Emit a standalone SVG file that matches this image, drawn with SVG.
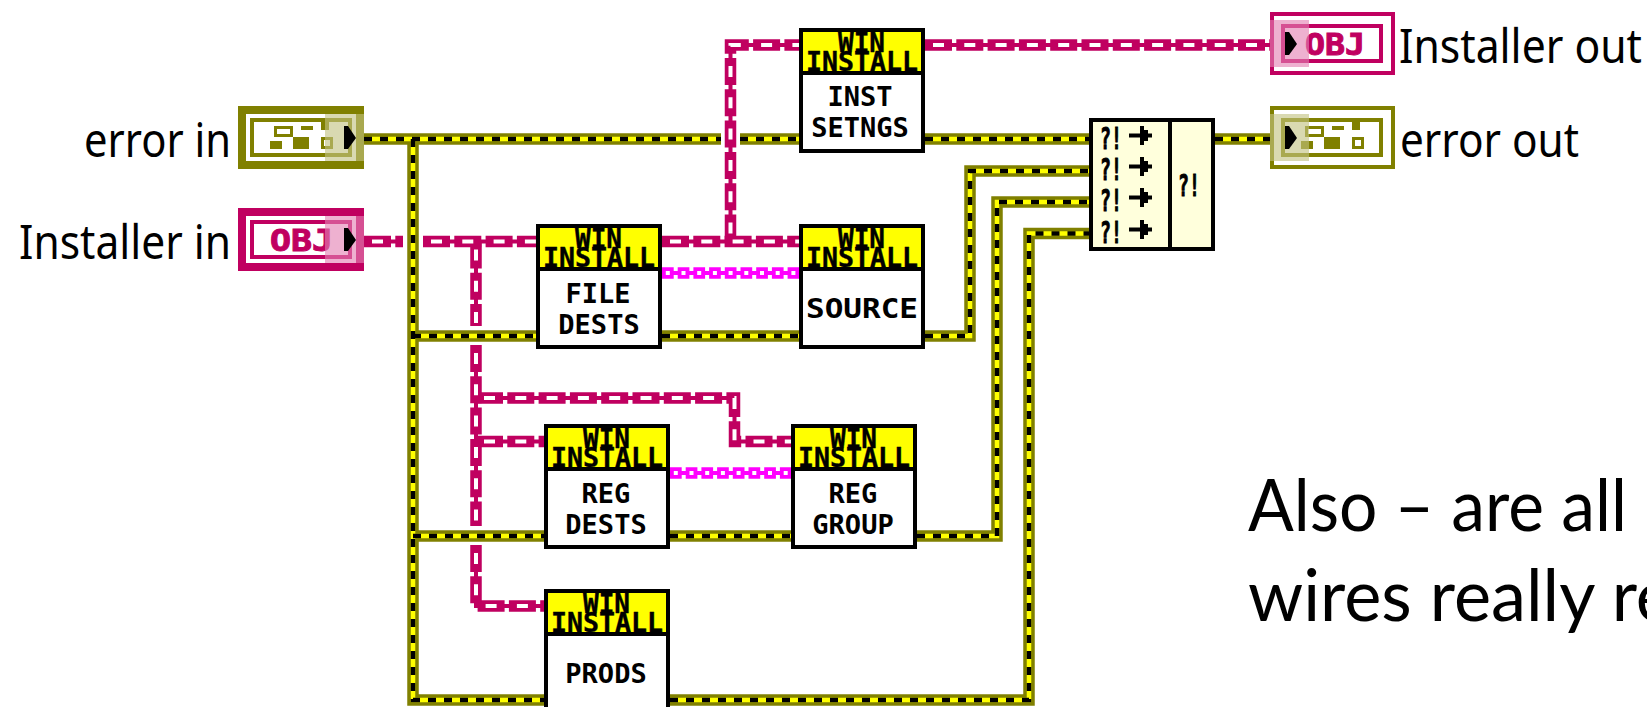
<svg xmlns="http://www.w3.org/2000/svg" width="1647" height="707" viewBox="0 0 1647 707">
<style>
text{font-family:"DejaVu Sans Mono","Liberation Mono",monospace;font-weight:700;fill:#000}
.lbl{font-family:"Noto Sans","Liberation Sans",sans-serif;font-weight:400;font-size:47px}
.big{font-family:Lato,"Open Sans",sans-serif;font-weight:400;font-size:71px}
.hd{font-size:27px;stroke:#000;stroke-width:.4}
.bd{font-size:27px;text-anchor:middle}
.obj{font-size:31px;fill:#c00060;stroke:#c00060;stroke-width:1}
.ex{font-size:31px;stroke:#000;stroke-width:1}
.w{fill:none;stroke-linejoin:miter}
.o1{stroke:#808000;stroke-width:11.5}
.o2{stroke:#ff0;stroke-width:4.5}
.o3{stroke:#000;stroke-width:4.5;stroke-dasharray:8 8}
.p1{stroke:#c00060;stroke-width:11.5;stroke-dasharray:27 4.3}
.p2{stroke:#c00060;stroke-width:4}
.p3{stroke:#fff;stroke-width:4;stroke-dasharray:11 20.3;stroke-dashoffset:-8}
.m1{stroke:#f0f;stroke-width:11.5;stroke-dasharray:11.7 4}
.m2{stroke:#f0f;stroke-width:4}
.m3{stroke:#fff;stroke-width:4;stroke-dasharray:4 11.7;stroke-dashoffset:-3.8}
.box{fill:#fff;stroke:#000;stroke-width:4}
.hdr{fill:#ff0}
.ol{fill:#808000}
.olS{fill:none;stroke:#808000}
.pkS{fill:none;stroke:#c00060}
.ovO{fill:#c1c181;fill-opacity:.62}
.ovP{fill:#e381b3;fill-opacity:.62}
.mg{fill:#ffffdc;stroke:#000;stroke-width:4}
</style>
<defs>
<g id="err">
<rect x="275.500" y="127.500" width="16" height="8" fill="none" stroke="#808000" stroke-width="3"/>
<rect x="301" y="126" width="12" height="4" class="ol"/>
<rect x="321" y="122" width="8" height="8" class="ol"/>
<rect x="270" y="141" width="12" height="8" class="ol"/>
<rect x="293" y="137" width="16" height="12" class="ol"/>
<rect x="322.500" y="138.500" width="9" height="9" fill="none" stroke="#808000" stroke-width="3"/>
</g>
<path id="arr" d="M0 0L0 23L4 23L12 12L4 0Z"/>
<path id="ah" d="M0 7.500H11V0H15V4H19V7.500H23V11.500H19V15H15V19H11V11.500H0Z"/>
<g id="head">
<rect x="4" y="4" width="118" height="40" class="hdr"/>
<path d="M0 45H126" stroke="#000" stroke-width="4"/>
</g>
<path id="a1" d="M364 139H721"/>
<path id="a2" d="M740 139H799"/>
<path id="a3" d="M925 139H1089"/>
<path id="a4" d="M1215 139H1270"/>
<path id="a5" d="M413 139V700H544"/>
<path id="a6" d="M670 700H1029V233.500H1089"/>
<path id="a7" d="M413 336H536"/>
<path id="a8" d="M662 336H799"/>
<path id="a9" d="M925 336H970V171H1089"/>
<path id="a10" d="M413 536H544"/>
<path id="a11" d="M670 536H791"/>
<path id="a12" d="M917 536H997V202H1089"/>
<path id="b1" d="M364 241.500H403"/>
<path id="b2" d="M423 241.500H536"/>
<path id="b3" d="M476 241.500V326"/>
<path id="b4" d="M476 345V526"/>
<path id="b5" d="M476 545V606H544"/>
<path id="b6" d="M476 398H734.500V441.500H791"/>
<path id="b7" d="M476 441.500H544"/>
<path id="b8" d="M662 241.500H799"/>
<path id="b9" d="M730.500 241.500V45H799"/>
<path id="b10" d="M925 45H1270"/>
<path id="c1" d="M662 273H799"/>
<path id="c2" d="M670 473H791"/>
</defs>
<rect width="1647" height="707" fill="#fff"/>
<g id="connectors" class="w">
<g class="o1"><use href="#a1"/><use href="#a2"/><use href="#a3"/><use href="#a4"/><use href="#a5"/><use href="#a6"/><use href="#a7"/><use href="#a8"/><use href="#a9"/><use href="#a10"/><use href="#a11"/><use href="#a12"/></g>
<g class="o2"><use href="#a1"/><use href="#a2"/><use href="#a3"/><use href="#a4"/><use href="#a5"/><use href="#a6"/><use href="#a7"/><use href="#a8"/><use href="#a9"/><use href="#a10"/><use href="#a11"/><use href="#a12"/></g>
<g class="o3"><use href="#a1"/><use href="#a2"/><use href="#a3"/><use href="#a4"/><use href="#a5"/><use href="#a6"/><use href="#a7"/><use href="#a8"/><use href="#a9"/><use href="#a10"/><use href="#a11"/><use href="#a12"/></g>
<g class="p1"><use href="#b1"/><use href="#b2"/><use href="#b3"/><use href="#b4"/><use href="#b5"/><use href="#b6"/><use href="#b7"/><use href="#b8"/><use href="#b9"/><use href="#b10"/></g>
<g class="p2"><use href="#b1"/><use href="#b2"/><use href="#b3"/><use href="#b4"/><use href="#b5"/><use href="#b6"/><use href="#b7"/><use href="#b8"/><use href="#b9"/><use href="#b10"/></g>
<g class="p3"><use href="#b1"/><use href="#b2"/><use href="#b3"/><use href="#b4"/><use href="#b5"/><use href="#b6"/><use href="#b7"/><use href="#b8"/><use href="#b9"/><use href="#b10"/></g>
<g class="m1"><use href="#c1"/><use href="#c2"/></g>
<g class="m2"><use href="#c1"/><use href="#c2"/></g>
<g class="m3"><use href="#c1"/><use href="#c2"/></g>
</g>
<g id="error-in">
<rect x="242" y="110" width="118" height="55" fill="#fff" stroke="#808000" stroke-width="8"/>
<rect x="252" y="120" width="98" height="35" class="olS" stroke-width="4"/>
<use href="#err"/>
<rect x="325" y="114" width="39" height="47" class="ovO"/>
<use href="#arr" x="344" y="126"/>
<text class="lbl" x="84" y="157" textLength="147" lengthAdjust="spacingAndGlyphs">error in</text>
</g>
<g id="installer-in">
<rect x="242" y="212" width="118" height="55" fill="#fff" stroke="#c00060" stroke-width="8"/>
<rect x="252" y="222" width="98" height="35" class="pkS" stroke-width="4"/>
<text class="obj" x="270" y="251" textLength="63" lengthAdjust="spacingAndGlyphs">OBJ</text>
<rect x="325" y="216" width="39" height="47" class="ovP"/>
<use href="#arr" x="344" y="228"/>
<text class="lbl" x="19" y="259" textLength="212" lengthAdjust="spacingAndGlyphs">Installer in</text>
</g>
<g id="installer-out">
<rect x="1272" y="14" width="121" height="59" fill="#fff" stroke="#c00060" stroke-width="4"/>
<rect x="1283" y="26" width="98" height="35" class="pkS" stroke-width="4"/>
<text class="obj" x="1305" y="55" textLength="60" lengthAdjust="spacingAndGlyphs">OBJ</text>
<rect x="1270" y="20" width="39" height="47" class="ovP"/>
<use href="#arr" x="1285" y="32"/>
<text class="lbl" x="1399" y="63" textLength="243" lengthAdjust="spacingAndGlyphs">Installer out</text>
</g>
<g id="error-out">
<rect x="1272" y="108" width="121" height="59" fill="#fff" stroke="#808000" stroke-width="4"/>
<rect x="1283" y="120" width="98" height="35" class="olS" stroke-width="4"/>
<use href="#err" x="1031"/>
<rect x="1270" y="114" width="39" height="47" class="ovO"/>
<use href="#arr" x="1285" y="126"/>
<text class="lbl" x="1400" y="157" textLength="179" lengthAdjust="spacingAndGlyphs">error out</text>
</g>
<g id="inst-setngs" transform="translate(799 28)">
<rect x="2" y="2" width="122" height="121" class="box"/><use href="#head"/>
<text class="hd" x="39" y="24" textLength="47" lengthAdjust="spacingAndGlyphs">WIN</text>
<text class="hd" x="7" y="43" textLength="112" lengthAdjust="spacingAndGlyphs">INSTALL</text>
<text class="bd" x="61" y="78">INST</text><text class="bd" x="61" y="109">SETNGS</text>
</g>
<g id="source" transform="translate(799 224)">
<rect x="2" y="2" width="122" height="121" class="box"/><use href="#head"/>
<text class="hd" x="39" y="24" textLength="47" lengthAdjust="spacingAndGlyphs">WIN</text>
<text class="hd" x="7" y="43" textLength="112" lengthAdjust="spacingAndGlyphs">INSTALL</text>
<text class="bd" x="63" y="94" textLength="112" lengthAdjust="spacingAndGlyphs">SOURCE</text>
</g>
<g id="file-dests" transform="translate(536 224)">
<rect x="2" y="2" width="122" height="121" class="box"/><use href="#head"/>
<text class="hd" x="39" y="24" textLength="47" lengthAdjust="spacingAndGlyphs">WIN</text>
<text class="hd" x="7" y="43" textLength="112" lengthAdjust="spacingAndGlyphs">INSTALL</text>
<text class="bd" x="62" y="79">FILE</text><text class="bd" x="63" y="110">DESTS</text>
</g>
<g id="reg-dests" transform="translate(544 424)">
<rect x="2" y="2" width="122" height="121" class="box"/><use href="#head"/>
<text class="hd" x="39" y="24" textLength="47" lengthAdjust="spacingAndGlyphs">WIN</text>
<text class="hd" x="7" y="43" textLength="112" lengthAdjust="spacingAndGlyphs">INSTALL</text>
<text class="bd" x="62" y="79">REG</text><text class="bd" x="62" y="110">DESTS</text>
</g>
<g id="reg-group" transform="translate(791 424)">
<rect x="2" y="2" width="122" height="121" class="box"/><use href="#head"/>
<text class="hd" x="39" y="24" textLength="47" lengthAdjust="spacingAndGlyphs">WIN</text>
<text class="hd" x="7" y="43" textLength="112" lengthAdjust="spacingAndGlyphs">INSTALL</text>
<text class="bd" x="62" y="79">REG</text><text class="bd" x="62" y="110">GROUP</text>
</g>
<g id="prods" transform="translate(544 589)">
<rect x="2" y="2" width="122" height="121" class="box"/><use href="#head"/>
<text class="hd" x="39" y="24" textLength="47" lengthAdjust="spacingAndGlyphs">WIN</text>
<text class="hd" x="7" y="43" textLength="112" lengthAdjust="spacingAndGlyphs">INSTALL</text>
<text class="bd" x="62" y="94">PRODS</text>
</g>
<g id="merge-errors">
<rect x="1091" y="120" width="122" height="129" class="mg"/>
<path d="M1170 118V251" stroke="#000" stroke-width="4"/>
<text class="ex" x="1100" y="149" textLength="22" lengthAdjust="spacingAndGlyphs">?!</text>
<text class="ex" x="1100" y="180" textLength="22" lengthAdjust="spacingAndGlyphs">?!</text>
<text class="ex" x="1100" y="211" textLength="22" lengthAdjust="spacingAndGlyphs">?!</text>
<text class="ex" x="1100" y="243" textLength="22" lengthAdjust="spacingAndGlyphs">?!</text>
<text class="ex" x="1178" y="196" textLength="22" lengthAdjust="spacingAndGlyphs">?!</text>
<use href="#ah" x="1129" y="126"/><use href="#ah" x="1129" y="157"/><use href="#ah" x="1129" y="188"/><use href="#ah" x="1129" y="220"/>
</g>
<text class="big" x="1248" y="531" textLength="379" lengthAdjust="spacingAndGlyphs">Also – are all</text>
<text class="big" x="1248" y="621" textLength="425" lengthAdjust="spacingAndGlyphs">wires really re</text>
</svg>
